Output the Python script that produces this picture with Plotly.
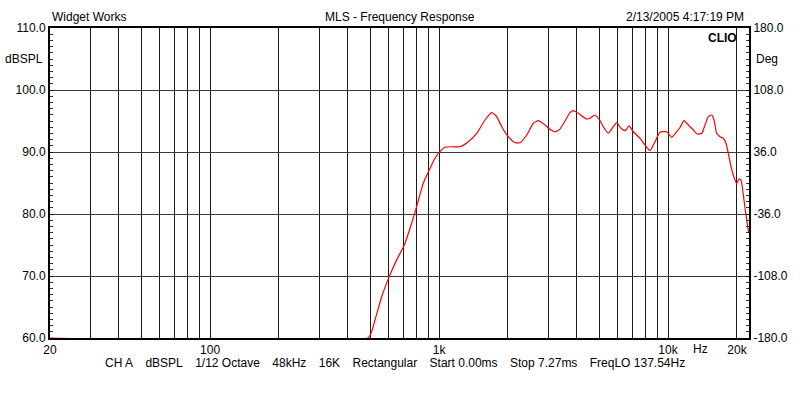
import numpy as np
import plotly.graph_objects as go

# ---- data ----
freq_hz = [20, 491, 525, 562, 606, 653, 705, 759, 798, 853, 906, 960, 1009, 1062, 1136, 1234,
           1342, 1460, 1587, 1698, 1785, 1878, 2006, 2146, 2256, 2414, 2580, 2712, 2902, 3052,
           3208, 3373, 3548, 3730, 3857, 4055, 4414, 4560, 4796, 5043, 5215, 5483, 5766, 5968,
           6230, 6486, 6752, 7050, 7542, 7932, 8340, 8770, 9222, 9863, 10372, 10908, 11276,
           11740, 12258, 12892, 13418, 14028, 14498, 14988, 15508, 15872, 16308, 16860, 17428,
           17908, 18326, 18774, 19268, 19940, 20404, 20822, 21180, 21460, 21896, 22340, 22500]
spl_db = [60.0, 60.05, 62.9, 66.7, 69.9, 72.6, 75.0, 78.5, 81.2, 84.95, 87.1, 89.0, 90.05, 90.76,
          90.85, 90.85, 91.66, 93.0, 95.16, 96.34, 95.7, 94.08, 92.47, 91.5, 91.5, 92.74, 94.63,
          95.05, 94.35, 93.66, 93.23, 93.7, 95.0, 96.34, 96.66, 96.24, 95.32, 95.44, 95.97, 95.05,
          94.08, 93.02, 94.08, 94.73, 93.82, 93.44, 94.2, 93.27, 92.21, 91.13, 90.21, 91.66, 93.18,
          93.27, 92.37, 93.27, 93.95, 95.05, 94.35, 93.55, 92.9, 93.02, 94.35, 95.7, 95.97, 95.16,
          93.02, 92.47, 92.21, 91.4, 89.79, 87.9, 86.29, 84.95, 85.65, 85.48, 83.87, 82.26, 79.84,
          77.7, 76.9]

x_major_vals = [20, 100, 1000, 10000, 20000]
x_major_text = ["20", "100", "1k", "10k", "20k"]
x_minor_vals = [30, 40, 50, 60, 70, 80, 90,
                200, 300, 400, 500, 600, 700, 800, 900,
                2000, 3000, 4000, 5000, 6000, 7000, 8000, 9000]
y_left_vals = [60, 70, 80, 90, 100, 110]
y_left_text = ["60.0", "70.0", "80.0", "90.0", "100.0", "110.0"]
y_right_vals = [-180, -108, -36, 36, 108, 180]
y_right_text = ["-180.0", "-108.0", "-36.0", "36.0", "108.0", "180.0"]

title_left = "Widget Works"
title_mid = "MLS - Frequency Response"
title_right = "2/13/2005 4:17:19 PM"
info_items = ["CH A", "dBSPL", "1/12 Octave", "48kHz", "16K", "Rectangular",
              "Start 0.00ms", "Stop 7.27ms", "FreqLO 137.54Hz"]

FONT = "Liberation Sans, Arial, sans-serif"
fs = 12

fig = go.Figure()
fig.add_trace(go.Scatter(x=freq_hz, y=spl_db, mode="lines",
                         line=dict(color="#ff0000", width=1.2, shape="spline", smoothing=0.5),
                         showlegend=False))
# invisible trace to activate right axis
fig.add_trace(go.Scatter(x=[100], y=[0], yaxis="y2", mode="markers",
                         marker=dict(opacity=0), showlegend=False, hoverinfo="skip"))

fig.update_layout(
    width=800, height=400,
    margin=dict(l=50, r=51, t=28, b=62),
    paper_bgcolor="white", plot_bgcolor="white",
    font=dict(family=FONT, size=fs, color="black"),
    xaxis=dict(
        type="log", range=[np.log10(20), np.log10(22570)], automargin=False,
        tickmode="array", tickvals=x_major_vals, ticktext=x_major_text,
        showgrid=True, gridcolor="#1a1a1a", gridwidth=1,
        showline=True, linecolor="black", linewidth=2, mirror=True,
        ticks="", zeroline=False,
        minor=dict(tickmode="array", tickvals=x_minor_vals, showgrid=True,
                   gridcolor="#1a1a1a", gridwidth=1, ticks=""),
        tickfont=dict(family=FONT, size=fs),
    ),
    yaxis=dict(
        range=[60, 110], tickmode="array", tickvals=y_left_vals, ticktext=y_left_text,
        automargin=False,
        showgrid=True, gridcolor="#3a3a3a", gridwidth=1,
        showline=True, linecolor="black", linewidth=2,
        ticks="inside", ticklen=3, tickcolor="black", zeroline=False,
        minor=dict(dtick=1, ticks="inside", ticklen=3, tickcolor="#333", showgrid=False),
        tickfont=dict(family=FONT, size=fs),
    ),
    yaxis2=dict(
        range=[-180, 180], overlaying="y", side="right", automargin=False,
        tickmode="array", tickvals=y_right_vals, ticktext=y_right_text,
        showgrid=False, zeroline=False,
        showline=True, linecolor="black", linewidth=2,
        ticks="inside", ticklen=3, tickcolor="black",
        minor=dict(tick0=-180, dtick=7.2, ticks="inside", ticklen=3, tickcolor="#333"),
        tickfont=dict(family=FONT, size=fs),
    ),
)

ann = dict(showarrow=False, font=dict(family=FONT, size=fs, color="black"))
fig.add_annotation(text=title_left, xref="paper", yref="paper", x=0.0, y=1.0,
                   xanchor="left", yanchor="bottom", yshift=2, **ann)
fig.add_annotation(text=title_mid, xref="paper", yref="paper", x=0.5, y=1.0,
                   xanchor="center", yanchor="bottom", yshift=2, **ann)
fig.add_annotation(text=title_right, xref="paper", yref="paper", x=0.995, y=1.0,
                   xanchor="right", yanchor="bottom", yshift=2, **ann)
fig.add_annotation(text="dBSPL", xref="paper", yref="paper", x=0.0, y=0.9,
                   xanchor="right", yanchor="middle", xshift=-5, **ann)
fig.add_annotation(text="Deg", xref="paper", yref="paper", x=1.0, y=0.9,
                   xanchor="left", yanchor="middle", xshift=5, **ann)
fig.add_annotation(text="<b>CLIO</b>", xref="paper", yref="paper", x=0.986, y=1.0,
                   xanchor="right", yanchor="top", yshift=-1, **ann)
fig.add_annotation(text="Hz", xref="paper", yref="paper", x=0.93, y=0.0,
                   xanchor="center", yanchor="top", yshift=-2, **ann)
gap = "\u00a0\u00a0\u00a0\u2009"
fig.add_annotation(text=gap.join(info_items), xref="paper", yref="paper",
                   x=0.4936, y=0.0, xanchor="center", yanchor="top", yshift=-16, **ann)

fig.write_html("out.html", config={"displayModeBar": False},
               post_script="document.body.style.margin='0';")
